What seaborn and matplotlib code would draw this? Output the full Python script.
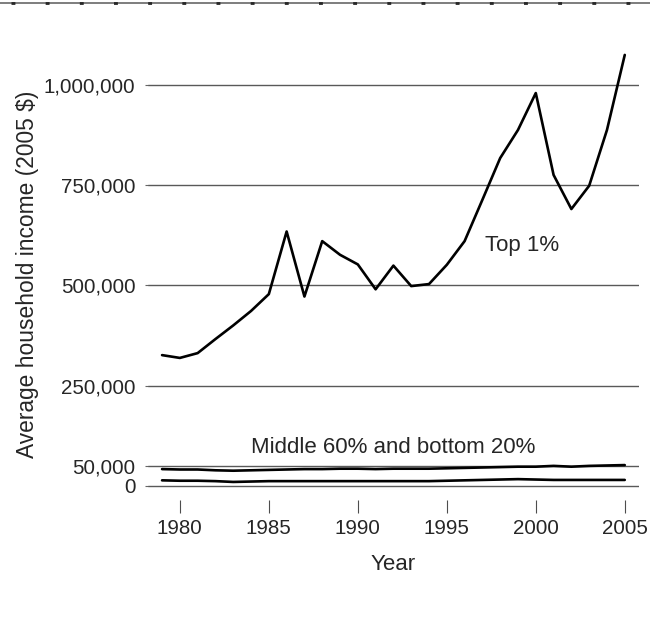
import matplotlib
matplotlib.use("Agg")
import matplotlib.pyplot as plt
from matplotlib.lines import Line2D
import seaborn as sns
import pandas as pd
from matplotlib.ticker import FuncFormatter

years = list(range(1979, 2006))
top1 = [326000, 319000, 331000, 366000, 400000, 436000, 478000, 634000, 472000, 610000,
        576000, 552000, 490000, 549000, 498000, 503000, 551000, 610000, 713000, 817000,
        887000, 979000, 775000, 690000, 748000, 887000, 1074000]
middle60 = [42000, 41000, 41000, 39000, 38000, 39000, 40000, 41000, 42000, 42000,
            43000, 43000, 42000, 43000, 43000, 43000, 44000, 45000, 46000, 47000,
            48000, 48000, 50000, 48000, 50000, 51000, 52000]
bottom20 = [14000, 13000, 13000, 12000, 10000, 11000, 12000, 12000, 12000, 12000,
            12000, 12000, 12000, 12000, 12000, 12000, 13000, 14000, 15000, 16000,
            17000, 16000, 15000, 15000, 15000, 15000, 15000]
yticks = [0, 50000, 250000, 500000, 750000, 1000000]
xticks = [1980, 1985, 1990, 1995, 2000, 2005]

df = pd.DataFrame({"Year": years, "Top 1%": top1, "Middle 60%": middle60, "Bottom 20%": bottom20})

sns.set_style("white")
plt.rcParams["font.family"] = ["Liberation Sans", "DejaVu Sans"]

fig = plt.figure(figsize=(6.5, 6.19), dpi=100)
ax = fig.add_axes([148/650, (619-500)/619, (639-148)/650, (500-20)/619])

for col in ["Top 1%", "Middle 60%", "Bottom 20%"]:
    sns.lineplot(data=df, x="Year", y=col, ax=ax, color="black", linewidth=1.9)

ax.set_xlim(1978.21, 2005.8)
ax.set_ylim(-35000, 1161000)
ax.set_yticks(yticks)
ax.yaxis.set_major_formatter(FuncFormatter(lambda v, p: f"{int(v):,}"))
ax.set_xticks(xticks)
for t in yticks:
    ax.axhline(t, color="0.35", linewidth=1.0, zorder=0)
for s in ax.spines.values():
    s.set_visible(False)
ax.tick_params(axis="y", left=True, length=2, width=0.8, color="0.4", pad=7, labelsize=14.8)
ax.tick_params(axis="x", length=9, width=0.8, direction="out", pad=5, labelsize=14.8,
               bottom=True, color="0.3")
ax.set_xlabel("Year", fontsize=16, labelpad=11)
ax.set_ylabel("Average household income (2005 $)", fontsize=16.4, labelpad=3.5)
ax.yaxis.label.set_y(0.471)

ax.text(1992.0, 97000, "Middle 60% and bottom 20%", ha="center", va="center", fontsize=16)
ax.text(1997.15, 598000, "Top 1%", ha="left", va="center", fontsize=16)

# top border decoration
fig.add_artist(Line2D([0, 1], [1 - 2.5/619, 1 - 2.5/619], transform=fig.transFigure,
                      color="0.45", linewidth=1.3))
fig.add_artist(Line2D([11/650, 1], [1 - 2.5/619, 1 - 2.5/619], transform=fig.transFigure,
                      color="0.15", linewidth=2.0, dashes=(1.4, 10.9)))

fig.savefig("out.png", dpi=100)
